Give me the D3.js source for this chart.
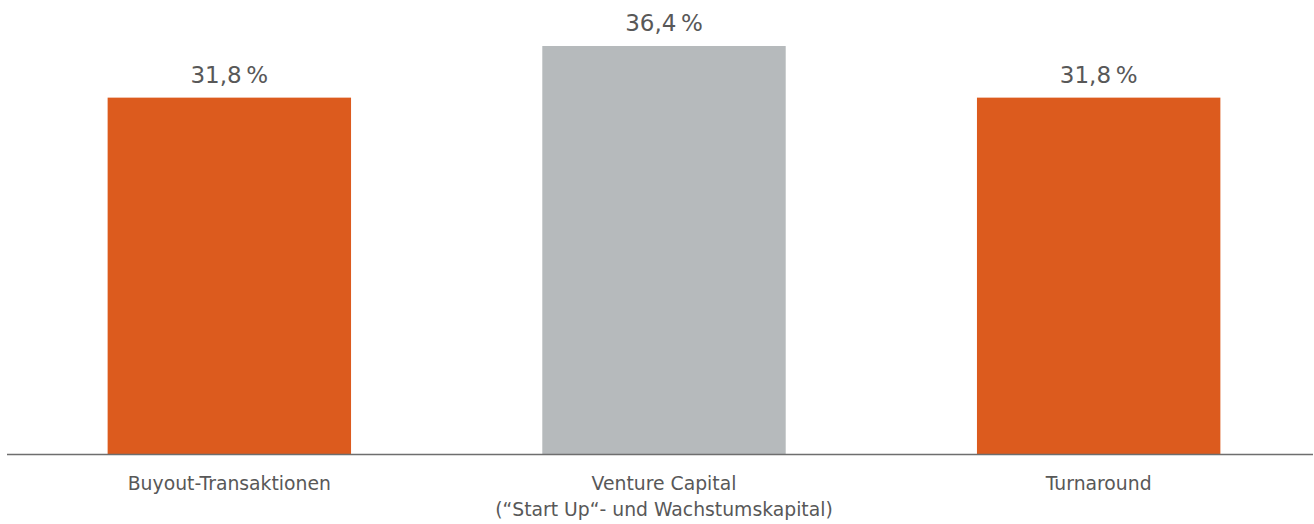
<!DOCTYPE html>
<html>
<head>
<meta charset="utf-8">
<script src="https://cdn.jsdelivr.net/npm/d3@7"></script>
<style>
  body { margin: 0; background: #fff; }
  svg text { font-family: "DejaVu Sans", sans-serif; fill: #585858; }
</style>
</head>
<body>
<svg id="chart" width="1314" height="524"></svg>
<script>
var categories = ["Buyout-Transaktionen", "Venture Capital\n(\u201cStart Up\u201c- und Wachstumskapital)", "Turnaround"];
var values = [31.8, 36.4, 31.8];
var colors = ["#dc5b1e", "#b6babc", "#dc5b1e"];

var svg = d3.select("#chart");
var baseY = 454.5;

var x = d3.scaleBand()
  .domain(categories)
  .range([12, 1316])
  .paddingInner(0.44)
  .paddingOuter(0.22);

var y = d3.scaleLinear()
  .domain([0, 40.5])
  .range([baseY, 0]);

svg.selectAll("rect.bar")
  .data(values)
  .enter().append("rect")
  .attr("class", "bar")
  .attr("x", (d, i) => x(categories[i]))
  .attr("width", x.bandwidth())
  .attr("y", d => y(d))
  .attr("height", d => y(0) - y(d))
  .attr("fill", (d, i) => colors[i]);

// wertebeschriftung oben
svg.selectAll("text.val")
  .data(values)
  .enter().append("text")
  .attr("class", "val")
  .attr("x", (d, i) => x(categories[i]) + x.bandwidth() / 2)
  .attr("y", d => y(d) - 15)
  .attr("text-anchor", "middle")
  .style("font-size", "23px")
  .text(d => d.toFixed(1).replace(".", ",") + "\u2009%");

// grundlinie
svg.append("line")
  .attr("x1", 7).attr("x2", 1313)
  .attr("y1", baseY).attr("y2", baseY)
  .attr("stroke", "#6e6e6e")
  .attr("stroke-width", 1.5);

var xAxis = svg.append("g");
categories.forEach(function(c) {
  var t = xAxis.append("text")
    .attr("x", x(c) + x.bandwidth() / 2)
    .attr("y", 490)
    .attr("text-anchor", "middle")
    .style("font-size", "18.8px");
  c.split("\n").forEach(function(line, j) {
    t.append("tspan")
      .attr("x", x(c) + x.bandwidth() / 2)
      .attr("dy", j == 0 ? 0 : 26)
      .text(line);
  });
});
</script>
</body>
</html>
